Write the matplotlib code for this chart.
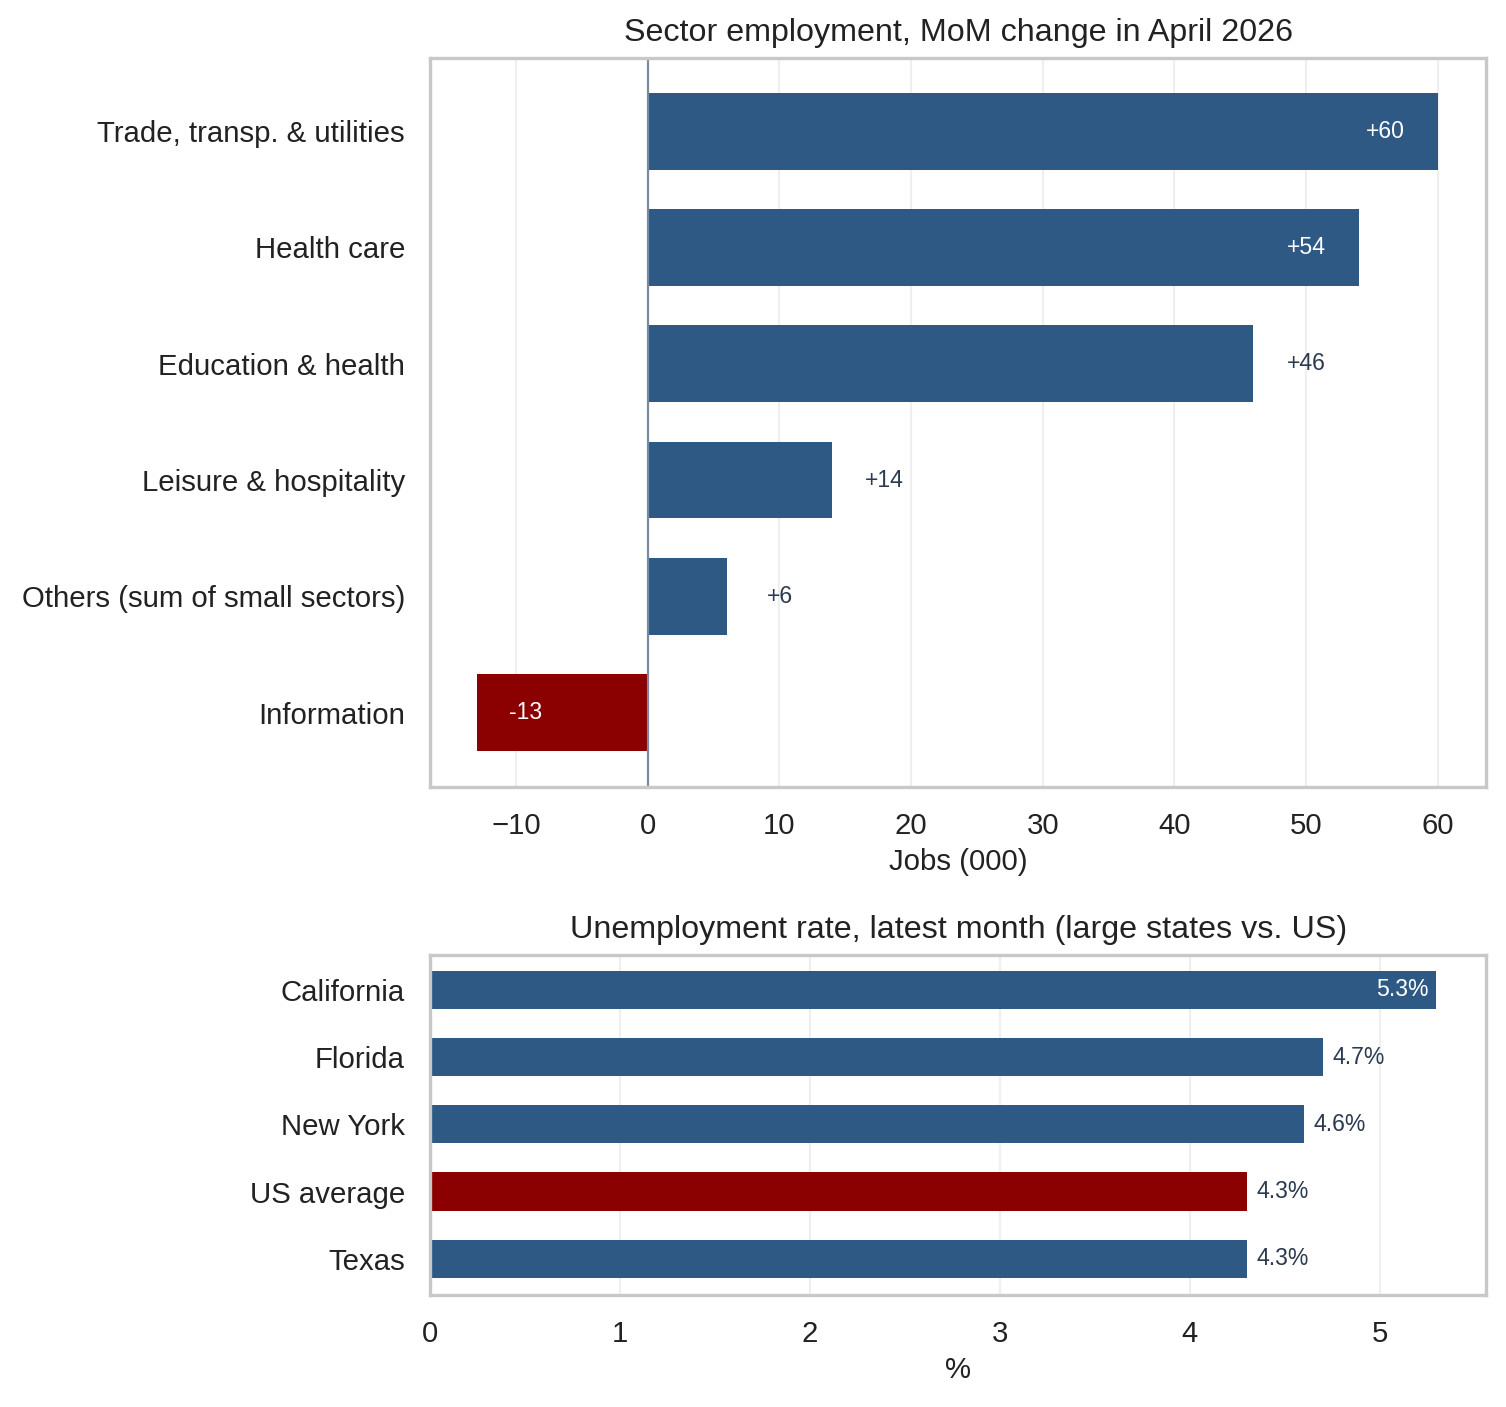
import matplotlib
matplotlib.use("Agg")
import matplotlib.pyplot as plt

sectors = ["Trade, transp. & utilities", "Health care", "Education & health",
           "Leisure & hospitality", "Others (sum of small sectors)", "Information"]
jobs = [60, 54, 46, 14, 6, -13]
states = ["California", "Florida", "New York", "US average", "Texas"]
rates = [5.3, 4.7, 4.6, 4.3, 4.3]

BLUE = "#2e5984"; RED = "#8b0000"; DARK = "#2b3a4f"
plt.rcParams['font.family'] = ['Liberation Sans', 'DejaVu Sans']

fig = plt.figure(figsize=(7.53, 7.035), dpi=200)
ax1 = fig.add_axes([0.2855, 0.4407, 0.7015, 0.5181])
ax2 = fig.add_axes([0.2855, 0.0796, 0.7015, 0.2417])

for ax in (ax1, ax2):
    ax.set_axisbelow(True)
    ax.grid(axis='x', color='#efefef', linewidth=0.8)
    for s in ax.spines.values():
        s.set_color('#c8c8c8'); s.set_linewidth(1.2)
    ax.tick_params(length=0, labelsize=10.6, colors='#222222', pad=9)

y1 = range(len(sectors))
ax1.barh(y1, jobs, height=0.66, color=[RED if v < 0 else BLUE for v in jobs])
ax1.axvline(0, color='#7a8aa0', linewidth=0.8)
for i, v in enumerate(jobs):
    lab = f"{v:+d}" if v > 0 else f"{v}"
    if v > 50:
        ax1.text(v - 4, i, lab, color='white', ha='center', va='center', fontsize=8.3)
    elif v < 0:
        ax1.text(v + 3.7, i, lab, color='white', ha='center', va='center', fontsize=8.3)
    else:
        ax1.text(v + 4, i, lab, color=DARK, ha='center', va='center', fontsize=8.3)
ax1.set_yticks(list(y1)); ax1.set_yticklabels(sectors)
ax1.set_ylim(5.64, -0.63)
ax1.set_xlim(-16.55, 63.7)
ax1.set_xticks([-10, 0, 10, 20, 30, 40, 50, 60])
ax1.set_xlabel("Jobs (000)", fontsize=10.6, color='#222222', labelpad=3)
ax1.set_title("Sector employment, MoM change in April 2026", fontsize=11.6, color='#222222', pad=6)

y2 = range(len(states))
ax2.barh(y2, rates, height=0.57, color=[RED if s == "US average" else BLUE for s in states])
for i, v in enumerate(rates):
    if v >= 5.0:
        ax2.text(v - 0.04, i, f"{v:.1f}%", color='white', ha='right', va='center', fontsize=8.3)
    else:
        ax2.text(v + 0.05, i, f"{v:.1f}%", color=DARK, ha='left', va='center', fontsize=8.3)
ax2.set_yticks(list(y2)); ax2.set_yticklabels(states)
ax2.set_ylim(4.54, -0.52)
ax2.set_xlim(0, 5.563)
ax2.set_xticks([0, 1, 2, 3, 4, 5])
ax2.set_xlabel("%", fontsize=10.6, color='#222222', labelpad=3)
ax2.set_title("Unemployment rate, latest month (large states vs. US)", fontsize=11.6, color='#222222', pad=6)

fig.savefig("out.png", dpi=200)
